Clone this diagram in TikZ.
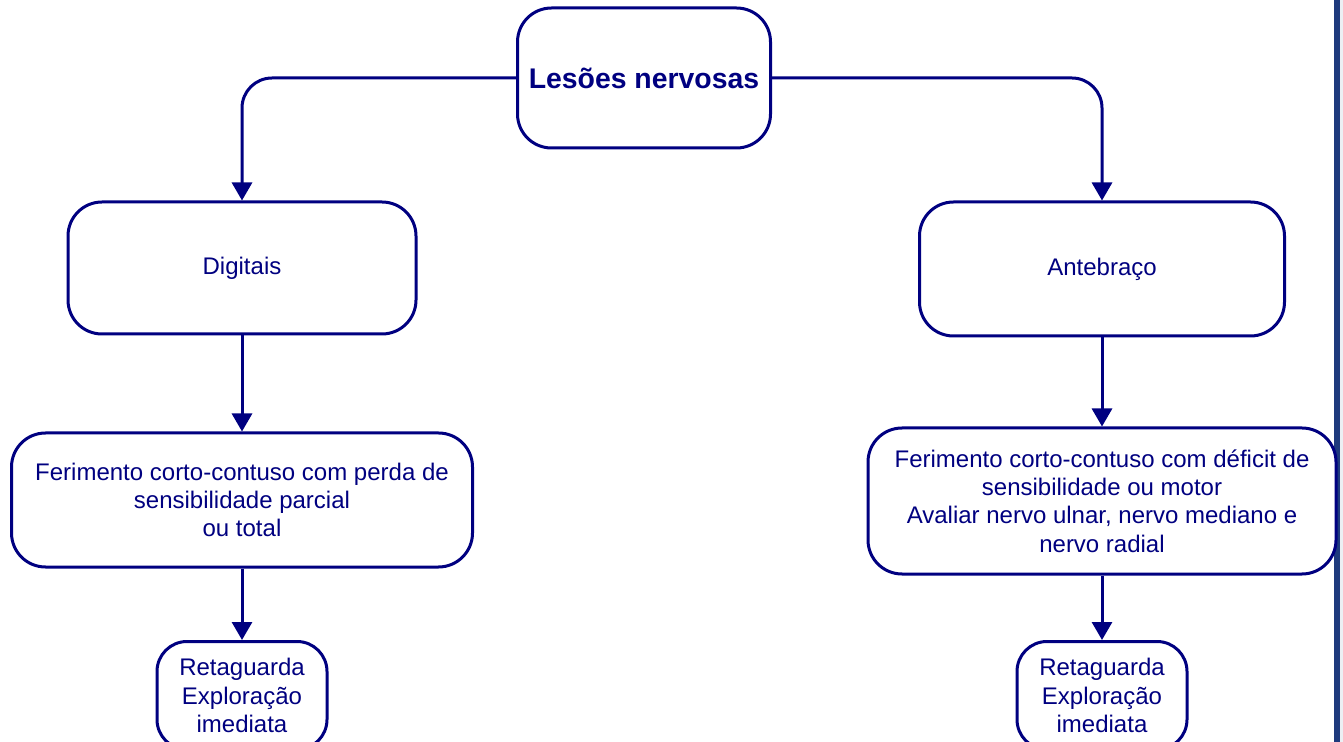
\documentclass[tikz,border=0pt]{standalone}
\usepackage{fontspec}
\setmainfont{Liberation Sans}
\usepackage{tikz}
\usetikzlibrary{positioning,arrows.meta}
\usepackage{xcolor}
\definecolor{navy}{RGB}{0,0,128}
\definecolor{stripblue}{RGB}{30,58,125}
\definecolor{stripgray}{RGB}{236,239,244}

\begin{document}
\begin{tikzpicture}[x=0.5pt, y=-0.5pt,
    box/.style={
        draw=navy,
        line width=1.5pt,
        rectangle,
        rounded corners=17pt,
        fill=white,
        align=center,
        text=navy,
        inner sep=0pt,
        font=\fontsize{12}{14.2}\selectfont
    },
    title/.style={
        box,
        font=\fontsize{14.2}{17}\selectfont\bfseries
    },
    arrow/.style={
        -{Triangle[width=10pt,length=9pt]},
        line width=1.5pt,
        navy
    }
]
    \clip (0,0) rectangle (1343,742);
    % right border strip
    \fill[stripblue] (1334,0) rectangle (1340,742);
    \fill[stripgray] (1340,0) rectangle (1343,742);

    % Main node
    \node[title, minimum width=126.5pt, minimum height=70pt] (lesoes) at (644,78) {Lesões nervosas};

    % Left branch
    \node[box, minimum width=174pt, minimum height=66pt] (digitais) at (242,268) {Digitais};
    \node[box, minimum width=230.5pt, minimum height=67pt] (feridig) [below=48pt of digitais] {
        Ferimento corto-contuso com perda de\\
        sensibilidade parcial\\
        ou total
    };
    \node[box, rounded corners=15pt, minimum width=85pt, minimum height=54pt, anchor=north] (retdig) at (242,640) {
        Retaguarda\\
        Exploração\\
        imediata
    };

    % Right branch
    \node[box, minimum width=182.5pt, minimum height=67pt] (antebraco) at (1102,269) {Antebraço};
    \node[box, minimum width=234pt, minimum height=73pt] (feriante) [below=44.5pt of antebraco] {
        Ferimento corto-contuso com déficit de\\
        sensibilidade ou motor\\
        Avaliar nervo ulnar, nervo mediano e\\
        nervo radial
    };
    \node[box, rounded corners=15pt, minimum width=85pt, minimum height=54pt, anchor=north] (retante) at (1102,640) {
        Retaguarda\\
        Exploração\\
        imediata
    };

    % Connectors
    \draw[arrow, rounded corners=15pt] (lesoes.west) -| (digitais.north);
    \draw[arrow, rounded corners=15pt] (lesoes.east) -| (antebraco.north);
    \draw[arrow] (digitais.south) -- (feridig.north);
    \draw[arrow] (feridig.south) -- (retdig.north);
    \draw[arrow] (antebraco.south) -- (feriante.north);
    \draw[arrow] (feriante.south) -- (retante.north);
\end{tikzpicture}
\end{document}
